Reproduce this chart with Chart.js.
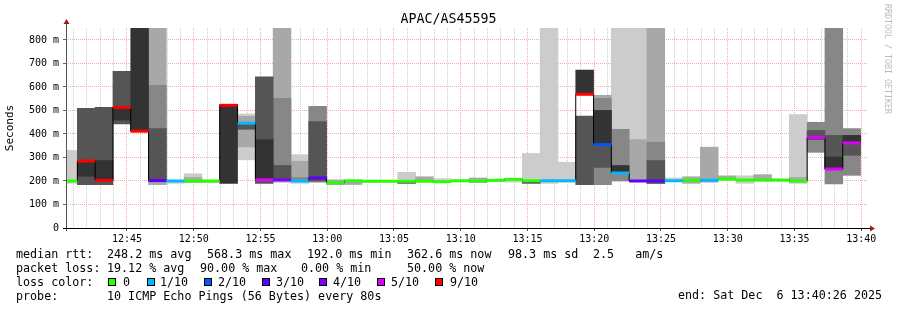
<!DOCTYPE html>
<html>
<head>
<meta charset="utf-8">
<script src="https://cdn.jsdelivr.net/npm/chart.js@4.4.0/dist/chart.umd.min.js"></script>
<style>
html, body { margin: 0; padding: 0; background: #fff; }
#wrap { position: relative; width: 897px; height: 310px; font-family: 'DejaVu Sans Mono', monospace; color: #000; }
#wrap canvas { position: absolute; left: 0; top: 0; }
.t { position: absolute; white-space: pre; font-size: 11.7px; line-height: 14px; }
.box { position: absolute; width: 8px; height: 8px; box-sizing: border-box; border: 1px solid #000; }
#title { position: absolute; left: 0; width: 897px; top: 11px; text-align: center; font-size: 13.3px; line-height: 16px; }
#credit { position: absolute; left: 883px; top: 4px; font-size: 8.3px; color: #bbb; writing-mode: vertical-rl; }
</style>
</head>
<body>
<div id="wrap">
  <canvas id="chart" width="897" height="310"></canvas>
  <div id="title">APAC/AS45595</div>
  <div id="credit">RRDTOOL / TOBI OETIKER</div>

  <div class="t" style="left:16px;top:247px">median rtt:</div>
  <div class="t" style="left:107px;top:247px">248.2 ms avg</div>
  <div class="t" style="left:207px;top:247px">568.3 ms max</div>
  <div class="t" style="left:307px;top:247px">192.0 ms min</div>
  <div class="t" style="left:407px;top:247px">362.6 ms now</div>
  <div class="t" style="left:508px;top:247px">98.3 ms sd</div>
  <div class="t" style="left:593px;top:247px">2.5   am/s</div>

  <div class="t" style="left:16px;top:261px">packet loss:</div>
  <div class="t" style="left:107px;top:261px">19.12 % avg</div>
  <div class="t" style="left:200px;top:261px">90.00 % max</div>
  <div class="t" style="left:301px;top:261px">0.00 % min</div>
  <div class="t" style="left:407px;top:261px">50.00 % now</div>

  <div class="t" style="left:16px;top:275px">loss color:</div>
  <div id="lossLegend"></div>

  <div class="t" style="left:16px;top:289px">probe:</div>
  <div class="t" style="left:107px;top:289px">10 ICMP Echo Pings (56 Bytes) every 80s</div>
  <div class="t" style="left:678px;top:288px">end: Sat Dec  6 13:40:26 2025</div>
</div>

<script>
// time range of the graph and the 80 s probe steps
const rangeStart = '12:40:26';
const rangeEnd = '13:40:26';
const firstStep = '12:39:57';
const stepSeconds = 80;
const yTop = 851;

// median rtt per step (ms)
const medianMs = [
  200, 285, 202, 513, 412, 202, 200, 200, 200, 522, 446, 205, 205, 200, 213,
  192, 201, 199, 199, 199, 199, 197, 201, 200, 203, 207, 201, 201, 201, 569,
  355, 234, 200, 200, 201, 203, 203, 208, 204, 204, 204, 200, 386, 251, 362
];
// lost pings out of 10 per step
const lossTenths = [
  0, 9, 9, 9, 9, 3, 1, 0, 0, 9, 1, 5, 4, 1, 3,
  0, 0, 0, 0, 0, 0, 0, 0, 0, 0, 0, 0, 1, 1, 9,
  2, 1, 3, 3, 1, 0, 1, 0, 0, 0, 0, 0, 5, 5, 5
];

const _ = null;
// smoke bands (ms), lightest to darkest
const smokeLight = [
  [190,330], _, _, _, _, _, [190,202], [192,231], [192,202], _, [290,485], _, _, [190,312], _,
  _, _, [195,203], [197,203], [190,237], _, [195,210], [198,204], _, [197,205], [195,210], [190,317], [190,900], [195,280], _,
  _, [200,900], [200,900], _, [200,213], _, _, _, [190,222], _, [200,208], [190,483], _, _, _
];
const smokeMid = [
  _, _, _, _, _, [184,900], _, [195,215], _, _, [345,475], _, [195,900], [205,284], _,
  [184,205], [185,201], _, _, _, [197,218], _, _, [193,213], _, _, _, _, _, _,
  [184,564], _, [200,376], [190,900], _, [190,218], [195,344], [205,222], _, [200,227], _, [195,215], _, _, _
];
const smokeGray = [
  _, _, _, _, _, [195,607], _, _, _, _, _, _, [200,552], [205,215], [195,518],
  _, _, _, _, _, _, _, _, _, _, _, _, _, _, _,
  [184,552], [200,420], _, [190,365], _, _, _, _, _, _, _, _, [322,450], [188,900], [224,423]
];
const smokeDark = [
  _, [184,509], [184,513], [443,667], _, [200,423], _, _, _, _, [420,445], [190,643], [205,266], _, [200,453],
  _, _, _, _, [190,195], _, _, _, _, _, _, [190,197], _, _, [184,476],
  [258,500], _, _, [190,287], _, _, _, _, _, _, _, _, [376,415], [251,394], [309,394]
];
const smokeBlack = [
  _, [220,287], [202,287], [459,513], [412,900], _, _, _, _, [190,526], _, [205,376], _, _, _,
  _, _, _, _, _, _, _, _, _, _, _, _, _, _, [569,672],
  [358,500], [234,266], _, _, _, _, _, _, _, _, _, _, _, [251,302], [362,394]
];

const lossLabels = ['0', '1/10', '2/10', '3/10', '4/10', '5/10', '9/10'];
const lossKeys = [0, 1, 2, 3, 4, 5, 9];
const lossColors = {0: '#26ff00', 1: '#00b8ff', 2: '#0059ff', 3: '#5e00ff', 4: '#7e00ff', 5: '#dd00ff', 9: '#ff0000'};

const toSec = s => { const [h, m, x] = s.split(':').map(Number); return h * 3600 + m * 60 + x; };
const hhmm = v => Math.floor(v / 3600) + ':' + String(Math.floor(v % 3600 / 60)).padStart(2, '0');

const xMin = toSec(rangeStart), xMax = toSec(rangeEnd), t0 = toSec(firstStep);
const stepStart = i => t0 + i * stepSeconds;

// legend boxes
const boxX = [108, 147, 204, 262, 319, 377, 435];
const labX = [123, 160, 218, 276, 333, 391, 450];
const lossLegend = document.getElementById('lossLegend');
lossKeys.forEach((k, i) => {
  const b = document.createElement('div');
  b.className = 'box';
  b.style.left = boxX[i] + 'px'; b.style.top = '278px'; b.style.background = lossColors[k];
  lossLegend.appendChild(b);
  const t = document.createElement('div');
  t.className = 't';
  t.style.left = labX[i] + 'px'; t.style.top = '275px'; t.textContent = lossLabels[i];
  lossLegend.appendChild(t);
});

function smokeSet(arr, color, order) {
  return {
    type: 'bar',
    data: arr.map((r, i) => r && {x: stepStart(i) + stepSeconds / 2, y: r}).filter(Boolean),
    backgroundColor: color,
    grouped: false,
    barPercentage: 1,
    categoryPercentage: 1,
    clip: 0,
    order
  };
}

const medianPts = [];
medianMs.forEach((m, i) => {
  medianPts.push({x: stepStart(i), y: m}, {x: stepStart(i + 1), y: m}, {x: stepStart(i + 1), y: null});
});
const stepPts = medianMs.map((m, i) => ({x: stepStart(i), y: m}));
stepPts.push({x: stepStart(medianMs.length), y: medianMs[medianMs.length - 1]});

const mono = 'DejaVu Sans Mono';
const majorGrid = '#f2acac';
const minorGrid = '#cdcdcd';

const axisArrows = {
  id: 'axisArrows',
  afterDraw(chart) {
    const {ctx, chartArea: a} = chart;
    ctx.save();
    ctx.lineWidth = 1;
    ctx.strokeStyle = '#555';
    ctx.beginPath(); ctx.moveTo(a.left + 0.5, a.bottom + 3); ctx.lineTo(a.left + 0.5, a.top - 5); ctx.stroke();
    ctx.strokeStyle = '#000';
    ctx.beginPath(); ctx.moveTo(a.left - 3, a.bottom + 0.5); ctx.lineTo(a.right + 4, a.bottom + 0.5); ctx.stroke();
    ctx.fillStyle = '#9a1a1a';
    ctx.beginPath(); ctx.moveTo(a.right + 8, a.bottom + 0.5); ctx.lineTo(a.right + 3, a.bottom - 2.5); ctx.lineTo(a.right + 3, a.bottom + 3.5); ctx.fill();
    ctx.beginPath(); ctx.moveTo(a.left + 0.5, a.top - 9); ctx.lineTo(a.left - 2.5, a.top - 4); ctx.lineTo(a.left + 3.5, a.top - 4); ctx.fill();
    ctx.restore();
  }
};

const rangeTicks = (from, to, step) => {
  const out = [];
  for (let v = Math.ceil(from / step) * step; v <= to; v += step) out.push({value: v});
  return out;
};

new Chart(document.getElementById('chart'), {
  type: 'bar',
  data: {
    datasets: [
      smokeSet(smokeLight, '#cccccc', 10),
      smokeSet(smokeMid, '#a8a8a8', 9),
      smokeSet(smokeGray, '#878787', 8),
      smokeSet(smokeDark, '#555555', 7),
      smokeSet(smokeBlack, '#333333', 6),
      {
        type: 'line', data: stepPts, stepped: 'before', borderColor: '#000', borderWidth: 1,
        pointRadius: 0, clip: 0, order: 2
      },
      {
        type: 'line', data: medianPts, borderWidth: 3, borderCapStyle: 'butt', pointRadius: 0,
        spanGaps: false, clip: 0, order: 1, borderColor: '#000',
        segment: {borderColor: c => lossColors[lossTenths[Math.floor(c.p0DataIndex / 3)]]}
      }
    ]
  },
  options: {
    responsive: false,
    animation: false,
    devicePixelRatio: 1,
    layout: {padding: {left: 0, top: 28, right: 30, bottom: 66}},
    plugins: {legend: {display: false}, tooltip: {enabled: false}},
    scales: {
      x: {
        type: 'linear', position: 'bottom', min: xMin, max: xMax, offset: false,
        afterBuildTicks: s => { s.ticks = rangeTicks(xMin, xMax, 300); },
        afterFit: s => { s.height = 16; },
        ticks: {
          autoSkip: false, maxRotation: 0, padding: 2, color: '#000',
          font: {family: mono, size: 10}, callback: v => hhmm(v)
        },
        grid: {offset: false, color: majorGrid, tickLength: 3, tickColor: '#555'},
        border: {display: false, dash: [1, 1]}
      },
      x2: {
        type: 'linear', position: 'bottom', min: xMin, max: xMax, offset: false,
        afterBuildTicks: s => { s.ticks = rangeTicks(xMin, xMax, 60); },
        afterFit: s => { s.height = 0; },
        ticks: {display: false},
        grid: {offset: false, drawTicks: false, color: c => c.tick && c.tick.value % 300 === 0 ? 'rgba(0,0,0,0)' : minorGrid},
        border: {display: false, dash: [1, 1]}
      },
      y: {
        min: 0, max: yTop,
        afterBuildTicks: s => { s.ticks = rangeTicks(0, yTop, 50); },
        afterFit: s => { s.width = 66; },
        ticks: {
          padding: 4, color: '#000', font: {family: mono, size: 10},
          callback: v => v % 100 ? '' : (v === 0 ? '0' : v + ' m')
        },
        grid: {
          tickLength: 3, tickColor: '#666',
          color: c => c.tick && c.tick.value % 100 === 0 ? majorGrid : minorGrid
        },
        border: {display: false, dash: [1, 1]},
        title: {display: true, text: 'Seconds', color: '#000', font: {family: mono, size: 11}, padding: {top: 4, bottom: 0}}
      }
    }
  },
  plugins: [axisArrows]
});
</script>
</body>
</html>
